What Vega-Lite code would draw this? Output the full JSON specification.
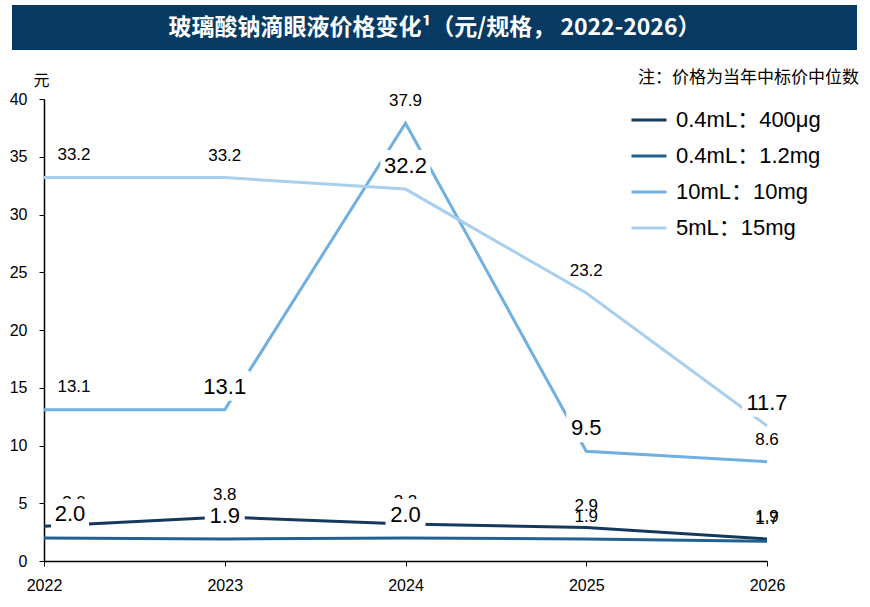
{
  "$schema": "https://vega.github.io/schema/vega-lite/v6.json",
  "description": "玻璃酸钠滴眼液价格变化 2022-2026",
  "background": "white",
  "padding": {"left": 9, "top": 5, "right": 5, "bottom": 5},
  "spacing": 19,
  "config": {
    "font": "Liberation Sans",
    "view": {"stroke": null}
  },
  "vconcat": [
    {
      "width": 845,
      "height": 45,
      "view": {"fill": "#063a63", "stroke": null},
      "data": {"values": [{"title": "玻璃酸钠滴眼液价格变化¹（元/规格， 2022-2026）"}]},
      "mark": {
        "type": "text",
        "color": "white",
        "font": "Noto Sans CJK SC",
        "fontWeight": "bold",
        "fontSize": 23,
        "baseline": "middle",
        "align": "center"
      },
      "encoding": {"text": {"field": "title", "type": "nominal"}}
    },
    {
      "width": 845,
      "height": 462,
      "title": {
        "text": "注：价格为当年中标价中位数",
        "anchor": "end",
        "frame": "group",
        "dx": 2,
        "offset": -15,
        "font": "Noto Sans CJK SC",
        "fontSize": 17,
        "fontWeight": "normal",
        "color": "black"
      },
      "data": {
        "values": [
          {"series": "0.4mL：400μg", "year": 2022, "value": 3.0},
          {"series": "0.4mL：400μg", "year": 2023, "value": 3.8},
          {"series": "0.4mL：400μg", "year": 2024, "value": 3.2},
          {"series": "0.4mL：400μg", "year": 2025, "value": 2.9},
          {"series": "0.4mL：400μg", "year": 2026, "value": 1.9},
          {"series": "0.4mL：1.2mg", "year": 2022, "value": 2.0},
          {"series": "0.4mL：1.2mg", "year": 2023, "value": 1.9},
          {"series": "0.4mL：1.2mg", "year": 2024, "value": 2.0},
          {"series": "0.4mL：1.2mg", "year": 2025, "value": 1.9},
          {"series": "0.4mL：1.2mg", "year": 2026, "value": 1.7},
          {"series": "10mL：10mg", "year": 2022, "value": 13.1},
          {"series": "10mL：10mg", "year": 2023, "value": 13.1},
          {"series": "10mL：10mg", "year": 2024, "value": 37.9},
          {"series": "10mL：10mg", "year": 2025, "value": 9.5},
          {"series": "10mL：10mg", "year": 2026, "value": 8.6},
          {"series": "5mL：15mg", "year": 2022, "value": 33.2},
          {"series": "5mL：15mg", "year": 2023, "value": 33.2},
          {"series": "5mL：15mg", "year": 2024, "value": 32.2},
          {"series": "5mL：15mg", "year": 2025, "value": 23.2},
          {"series": "5mL：15mg", "year": 2026, "value": 11.7}
        ]
      },
      "encoding": {
        "x": {
          "field": "year",
          "type": "quantitative",
          "scale": {"domain": [2022, 2026], "range": [32, 755], "nice": false, "zero": false},
          "axis": {
            "title": null,
            "values": [2022, 2023, 2024, 2025, 2026],
            "format": "d",
            "grid": false,
            "labelFontSize": 16,
            "labelColor": "black",
            "labelPadding": 11,
            "labelFlush": false,
            "tickSize": 5,
            "tickColor": "black",
            "domainColor": "black",
            "domainWidth": 1.5
          }
        },
        "y": {
          "field": "value",
          "type": "quantitative",
          "scale": {"domain": [0, 40], "nice": false},
          "axis": {
            "offset": -32,
            "title": "元",
            "titleAngle": 0,
            "titleX": -3,
            "titleY": -19,
            "titleAlign": "center",
            "titleBaseline": "middle",
            "titleFont": "Noto Sans CJK SC",
            "titleFontSize": 16,
            "titleFontWeight": "normal",
            "titleColor": "black",
            "values": [0, 5, 10, 15, 20, 25, 30, 35, 40],
            "grid": false,
            "labelFontSize": 16,
            "labelColor": "black",
            "labelPadding": 12,
            "tickSize": 5,
            "tickColor": "black",
            "domainColor": "black",
            "domainWidth": 1.5
          }
        }
      },
      "layer": [
        {
          "mark": {"type": "line", "strokeWidth": 3},
          "encoding": {
            "color": {
              "field": "series",
              "type": "nominal",
              "scale": {
                "domain": ["0.4mL：400μg", "0.4mL：1.2mg", "10mL：10mg", "5mL：15mg"],
                "range": ["#14395c", "#21608f", "#6fb0e0", "#a8cfee"]
              },
              "legend": {
                "title": null,
                "orient": "none",
                "legendX": 618,
                "legendY": 96,
                "padding": 0,
                "symbolType": "stroke",
                "symbolStrokeWidth": 3,
                "symbolSize": 1225,
                "labelFont": "Liberation Sans, Noto Sans CJK SC",
                "labelFontSize": 22,
                "labelColor": "black",
                "labelOffset": 8,
                "labelLimit": 300,
                "rowPadding": 6
              }
            }
          }
        },
        {
          "transform": [
            {"filter": "!((datum.series === '0.4mL：1.2mg' && datum.year <= 2024) || (datum.series === '10mL：10mg' && (datum.year === 2023 || datum.year === 2025)) || (datum.series === '5mL：15mg' && (datum.year === 2024 || datum.year === 2026))) && datum.year > 2022"}
          ],
          "mark": {"type": "text", "fontSize": 17, "baseline": "middle", "dy": -22, "color": "black"},
          "encoding": {"text": {"field": "value", "type": "quantitative", "format": ".1f"}}
        },
        {
          "transform": [
            {"filter": "!((datum.series === '0.4mL：1.2mg' && datum.year <= 2024) || (datum.series === '10mL：10mg' && (datum.year === 2023 || datum.year === 2025)) || (datum.series === '5mL：15mg' && (datum.year === 2024 || datum.year === 2026))) && datum.year === 2022"}
          ],
          "mark": {"type": "text", "fontSize": 17, "baseline": "middle", "dy": -23, "dx": 30, "color": "black"},
          "encoding": {"text": {"field": "value", "type": "quantitative", "format": ".1f"}}
        },
        {
          "transform": [
            {"filter": "((datum.series === '0.4mL：1.2mg' && datum.year <= 2024) || (datum.series === '10mL：10mg' && datum.year === 2025)) && datum.year > 2022"}
          ],
          "mark": {"type": "point", "shape": "M-1,-0.75H1V0.75H-1Z", "size": 1600, "filled": true, "color": "white", "opacity": 1, "yOffset": -24},
          "encoding": {}
        },
        {
          "transform": [
            {"filter": "(datum.series === '10mL：10mg' && datum.year === 2023) || (datum.series === '5mL：15mg' && (datum.year === 2024 || datum.year === 2026))"}
          ],
          "mark": {"type": "point", "shape": "M-1,-0.6H1V0.6H-1Z", "size": 2500, "filled": true, "color": "white", "opacity": 1, "yOffset": -24},
          "encoding": {}
        },
        {
          "transform": [
            {"filter": "datum.series === '0.4mL：1.2mg' && datum.year === 2022"}
          ],
          "mark": {"type": "point", "shape": "M-1,-0.79H1V0.79H-1Z", "size": 1444, "filled": true, "color": "white", "opacity": 1, "yOffset": -24, "xOffset": 26},
          "encoding": {}
        },
        {
          "transform": [
            {"filter": "((datum.series === '0.4mL：1.2mg' && datum.year <= 2024) || (datum.series === '10mL：10mg' && (datum.year === 2023 || datum.year === 2025)) || (datum.series === '5mL：15mg' && (datum.year === 2024 || datum.year === 2026))) && datum.year > 2022"}
          ],
          "mark": {"type": "text", "fontSize": 22, "baseline": "middle", "dy": -23, "color": "black"},
          "encoding": {"text": {"field": "value", "type": "quantitative", "format": ".1f"}}
        },
        {
          "transform": [
            {"filter": "datum.series === '0.4mL：1.2mg' && datum.year === 2022"}
          ],
          "mark": {"type": "text", "fontSize": 22, "baseline": "middle", "dy": -24, "dx": 26, "color": "black"},
          "encoding": {"text": {"field": "value", "type": "quantitative", "format": ".1f"}}
        }
      ]
    }
  ]
}
